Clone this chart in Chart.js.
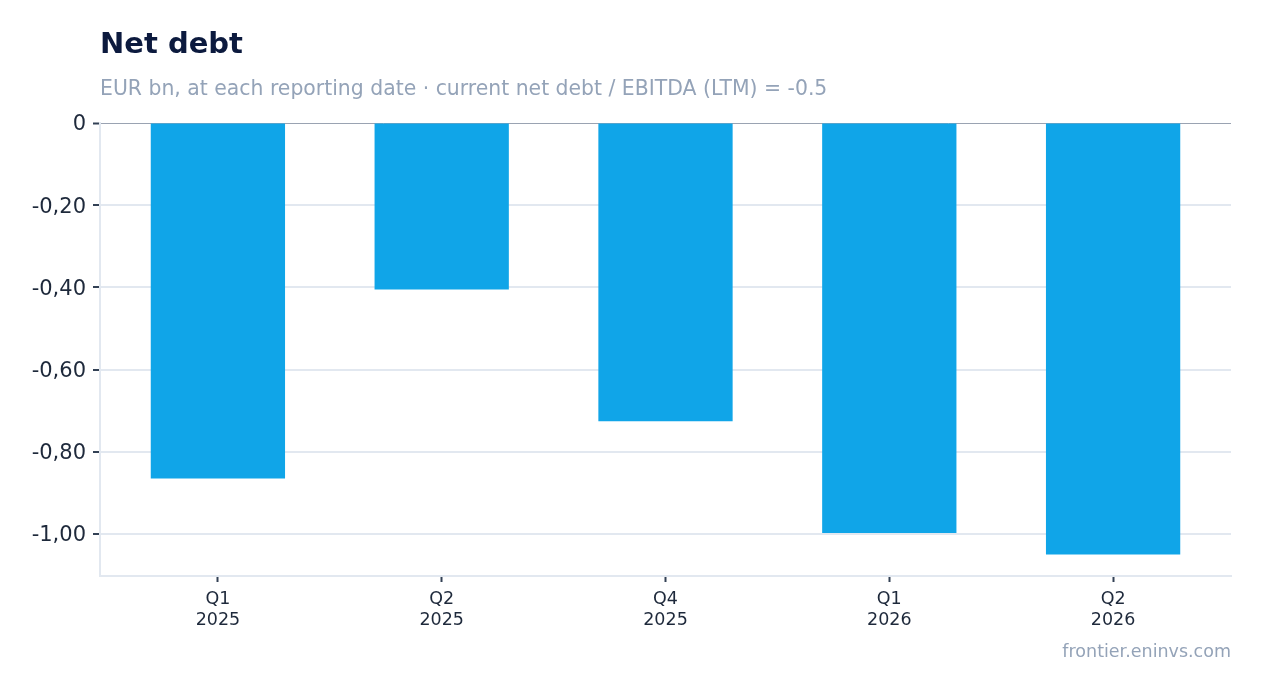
<!DOCTYPE html>
<html><head><meta charset="utf-8">
<script src="https://cdn.jsdelivr.net/npm/chart.js@4/dist/chart.umd.min.js"></script>
<style>
html,body{margin:0;padding:0;background:#fff;width:1262px;height:693px;overflow:hidden;font-family:"DejaVu Sans",sans-serif;}
.t{position:absolute;white-space:nowrap;line-height:1;}
#title{left:100px;top:28.5px;font-size:29px;font-weight:bold;color:#0c1a3e;}
#sub{left:100px;top:77.6px;font-size:20.4px;color:#94a3b8;}
#foot{right:31px;top:643px;font-size:17.5px;color:#94a3b8;}
#wrap{position:absolute;left:0;top:0;width:1262px;height:693px;}
</style></head><body>
<div id="wrap"><canvas id="c" width="1262" height="693"></canvas></div>
<div id="title" class="t">Net debt</div>
<div id="sub" class="t">EUR bn, at each reporting date · current net debt / EBITDA (LTM) = -0.5</div>
<div id="foot" class="t">frontier.eninvs.com</div>
<script>
const quarters = ['Q1','Q2','Q4','Q1','Q2'];
const years = ['2025','2025','2025','2026','2026'];
const netDebt = [-0.865, -0.405, -0.726, -0.998, -1.050];
const yMin = -1.1025;
const yMax = 0;
const yStep = 0.2;

const labels = quarters.map((q,i)=>[q, years[i]]);

// inner horizontal padding of the category range inside the plot frame
const xInset = {
  id:'xInset',
  afterLayout(chart){
    const s = chart.scales.x;
    const pad = 6;
    s._startPixel += pad; s._endPixel -= pad; s._length -= 2*pad;
  }
};

new Chart(document.getElementById('c'), {
  type:'bar',
  data:{labels, datasets:[{data:netDebt, backgroundColor:'#10a5e8', borderWidth:0, barPercentage:0.6, categoryPercentage:1}]},
  plugins:[xInset],
  options:{
    responsive:false, animation:false,
    layout:{padding:{top:123,right:31,bottom:53,left:0}},
    plugins:{legend:{display:false},tooltip:{enabled:false}},
    scales:{
      x:{
        grid:{offset:false, drawOnChartArea:false, drawTicks:true, tickLength:6, tickColor:'#334155', tickWidth:2},
        border:{display:true, color:'#e2e8f0', width:2},
        ticks:{color:'#1e293b', font:{family:'DejaVu Sans', size:17.5, lineHeight:1.2}, padding:7, maxRotation:0},
        afterFit:(s)=>{s.height=64;}
      },
      y:{
        min:yMin, max:yMax,
        grid:{color:(ctx)=>ctx.tick && ctx.tick.value===0 ? '#9aa3b2' : '#e2e8f0', lineWidth:(ctx)=>ctx.tick && ctx.tick.value===0 ? 1 : 2, tickLength:7, tickColor:'#334155', tickWidth:2},
        border:{display:true, color:'#e2e8f0', width:2},
        ticks:{stepSize:yStep, includeBounds:false, color:'#1e293b', font:{family:'DejaVu Sans', size:21}, padding:7, labelOffset:2,
          callback:(v)=> Math.abs(v)<1e-9 ? '0' : v.toFixed(2).replace('.',',')},
        afterFit:(s)=>{s.width=100;}
      }
    }
  }
});
</script>
</body></html>
